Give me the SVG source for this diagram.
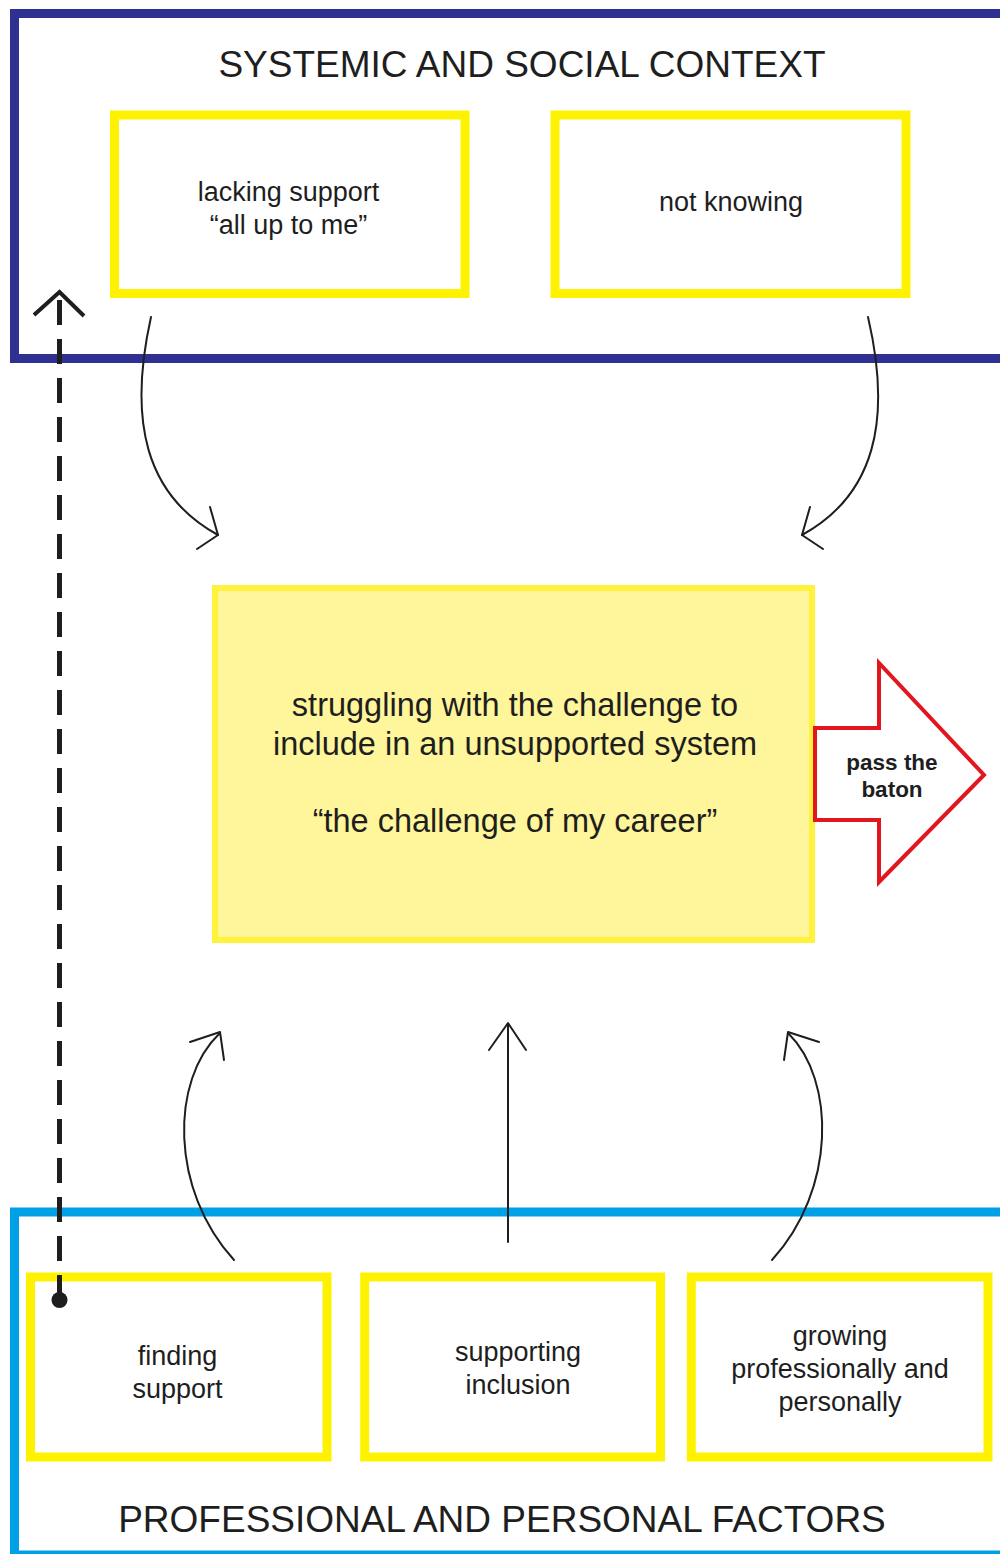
<svg xmlns="http://www.w3.org/2000/svg" width="1000" height="1554" viewBox="0 0 1000 1554">
  <style>
    .lbl { font-family: "Liberation Sans", Arial, sans-serif; fill: #1e1e1e; text-anchor: middle; }
    .title { font-size: 37px; }
    .small { font-size: 27px; }
    .main { font-size: 32.5px; }
    .bold { font-size: 22.5px; font-weight: bold; }
    .factor { fill: none; stroke: #fff200; stroke-width: 9; }
    .flow { fill: none; stroke: #1e1e1e; stroke-width: 2; stroke-linecap: round; stroke-linejoin: round; }
  </style>
  <rect width="1000" height="1554" fill="#ffffff"/>

  <!-- outer context frames (open on the right) -->
  <g id="systemic-context">
    <rect x="14.5" y="13.5" width="995" height="345" fill="none" stroke="#2e3192" stroke-width="9"/>
    <text class="lbl title" x="522" y="77">SYSTEMIC AND SOCIAL CONTEXT</text>
  </g>
  <g id="personal-factors">
    <rect x="14.5" y="1212" width="995" height="343" fill="none" stroke="#00a0e6" stroke-width="9"/>
    <text class="lbl title" x="502" y="1532">PROFESSIONAL AND PERSONAL FACTORS</text>
  </g>

  <!-- systemic nodes -->
  <g id="lacking-support">
    <rect class="factor" x="114.5" y="115" width="350.5" height="178.5"/>
    <text class="lbl small" x="288.5" y="201">lacking support</text>
    <text class="lbl small" x="288.5" y="234">“all up to me”</text>
  </g>
  <g id="not-knowing">
    <rect class="factor" x="555" y="115" width="351" height="178.5"/>
    <text class="lbl small" x="731" y="211">not knowing</text>
  </g>

  <!-- central node -->
  <g id="challenge">
    <rect x="215" y="588" width="597" height="352" fill="#fff59b" stroke="#fff23c" stroke-width="6"/>
    <text class="lbl main" x="515" y="716">struggling with the challenge to</text>
    <text class="lbl main" x="515" y="755">include in an unsupported system</text>
    <text class="lbl main" x="515" y="832">“the challenge of my career”</text>
  </g>

  <!-- outgoing block arrow -->
  <g id="pass-the-baton">
    <polygon points="815,728 879,728 879,663 984,775 879,882 879,820 815,820" fill="#ffffff" stroke="#e3161f" stroke-width="4" stroke-linejoin="miter"/>
    <text class="lbl bold" x="892" y="770">pass the</text>
    <text class="lbl bold" x="892" y="797">baton</text>
  </g>

  <!-- personal nodes -->
  <g id="finding-support">
    <rect class="factor" x="30.5" y="1277" width="296.5" height="180"/>
    <text class="lbl small" x="177.5" y="1365">finding</text>
    <text class="lbl small" x="177.5" y="1398">support</text>
  </g>
  <g id="supporting-inclusion">
    <rect class="factor" x="364.7" y="1277" width="295.8" height="180"/>
    <text class="lbl small" x="518" y="1361">supporting</text>
    <text class="lbl small" x="518" y="1394">inclusion</text>
  </g>
  <g id="growing">
    <rect class="factor" x="691.3" y="1277" width="296.7" height="180"/>
    <text class="lbl small" x="840" y="1345">growing</text>
    <text class="lbl small" x="840" y="1378">professionally and</text>
    <text class="lbl small" x="840" y="1411">personally</text>
  </g>

  <!-- connectors -->
  <g id="connectors">
    <!-- from the context into the challenge -->
    <path class="flow" d="M151 317 C 128 420 145 495 218 535"/>
    <path class="flow" d="M210 507 L218 535 L197 549"/>
    <path class="flow" d="M868 317 C 892 420 875 495 802 535"/>
    <path class="flow" d="M810 507 L802 535 L823 549"/>

    <!-- from the personal factors up into the challenge -->
    <path class="flow" d="M234 1260 C 170 1190 170 1080 220 1033"/>
    <path class="flow" d="M190 1042 L220 1032 L224 1060"/>
    <path class="flow" d="M508 1242 L508 1024"/>
    <path class="flow" d="M489 1050 L508 1023 L526 1050"/>
    <path class="flow" d="M772 1260 C 836 1190 836 1080 788 1033"/>
    <path class="flow" d="M819 1042 L788 1032 L784 1060"/>

    <!-- dashed feedback line back to the context -->
    <line x1="59.5" y1="1300" x2="59.5" y2="292" stroke="#1e1e1e" stroke-width="5" stroke-dasharray="25 14"/>
    <path d="M34 315 L59.5 292 L84 316" fill="none" stroke="#1e1e1e" stroke-width="4"/>
    <circle cx="59.5" cy="1300" r="8" fill="#1e1e1e"/>
  </g>
</svg>
